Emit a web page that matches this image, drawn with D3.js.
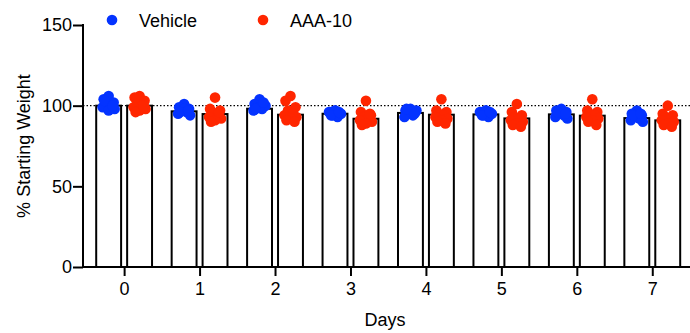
<!DOCTYPE html>
<html>
<head>
<meta charset="utf-8">
<script src="https://cdn.jsdelivr.net/npm/d3@7"></script>
<style>
  body { margin: 0; background: #fff; }
  text { font-family: Arial, "Liberation Sans", sans-serif; fill: #000; }
</style>
</head>
<body>
<svg width="690" height="333"></svg>
<script>
// chart data
const days = [0, 1, 2, 3, 4, 5, 6, 7];
const yTicks = [0, 50, 100, 150];
const vehicleMean = [100, 96.5, 98.1, 95, 95.5, 94.6, 94.6, 92.3];
const aaaMean = [100, 94.8, 94.4, 91.9, 94.4, 92.1, 93.8, 90.9];

const vehiclePts = [
  [106, 104, 102, 101, 100, 99, 98, 97, 103, 100],
  [101, 99, 98, 97, 96, 95, 94, 98, 96, 97],
  [104, 101, 100, 99, 98, 97, 100, 99, 98, 102],
  [97, 96, 95, 94, 93, 96, 95, 97, 94, 96],
  [98, 97, 96, 95, 94, 93, 97, 96, 98, 95],
  [97, 96, 95, 94, 93, 96, 95, 97, 94, 96],
  [98, 97, 96, 95, 94, 93, 92, 97, 96, 95],
  [97, 95, 94, 93, 92, 91, 90, 93, 94, 95]
];
const aaaPts = [
  [106, 105, 103, 101, 100, 99, 98, 97, 96, 100],
  [105, 98, 97, 95, 94, 93, 92, 91, 90, 96],
  [106, 103, 99, 97, 95, 94, 93, 92, 91, 90],
  [103, 96, 94, 93, 92, 91, 90, 89, 88, 95],
  [104, 97, 96, 95, 94, 93, 92, 91, 90, 89],
  [101, 96, 94, 93, 92, 91, 90, 89, 88, 87],
  [104, 97, 96, 95, 94, 93, 92, 91, 90, 88],
  [100, 95, 94, 93, 92, 91, 90, 89, 88, 87]
];

const blue = '#0433ff';
const red = '#ff2600';

const svg = d3.select('svg');

const x = d3.scaleLinear().domain([-0.545, 7.5]).range([83, 690]);
const y = d3.scaleLinear().domain([0, 150]).range([267, 25]);

const off = x(0.205) - x(0);   // group offset from the tick
const bw = x(0.33) - x(0);     // bar width
const jitter = [0, -5, 5, -2.5, 2.5, -6, 6, 0, -4, 4]; // horizontal scatter of dots

// reference line at 100
svg.append('line')
  .attr('x1', x(-0.545)).attr('x2', 690)
  .attr('y1', y(100)).attr('y2', y(100))
  .attr('stroke', '#000').attr('stroke-width', 1.2)
  .attr('stroke-dasharray', '1.5,2');

const groups = [
  { mean: vehicleMean, pts: vehiclePts, color: blue, dir: -1 },
  { mean: aaaMean, pts: aaaPts, color: red, dir: 1 }
];

groups.forEach(gr => {
  svg.append('g').selectAll('rect')
    .data(days)
    .enter().append('rect')
    .attr('x', d => x(d) + gr.dir * off - bw / 2)
    .attr('y', (d, i) => y(gr.mean[i]))
    .attr('width', bw)
    .attr('height', (d, i) => y(0) - y(gr.mean[i]))
    .attr('fill', '#fff')
    .attr('stroke', '#000')
    .attr('stroke-width', 2);
});

groups.forEach(gr => {
  days.forEach((d, i) => {
    const cx = x(d) + gr.dir * off;
    svg.append('g').selectAll('circle')
      .data(gr.pts[i])
      .enter().append('circle')
      .attr('cx', (v, j) => cx + jitter[j % jitter.length])
      .attr('cy', v => y(v))
      .attr('r', 5.3)
      .attr('fill', gr.color);
  });
});

// axes
const yAxis = svg.append('g')
  .attr('transform', `translate(${x(-0.545)},0)`)
  .call(d3.axisLeft(y).tickValues(yTicks).tickSize(10).tickPadding(1));
const xAxis = svg.append('g')
  .attr('transform', `translate(0,${y(0)})`)
  .call(d3.axisBottom(x).tickValues(days).tickSize(9).tickPadding(6).tickFormat(d3.format('d')));

[yAxis, xAxis].forEach(a => {
  a.selectAll('.tick line').attr('stroke-width', 2);
  a.selectAll('text').attr('font-size', 18).attr('fill', '#000');
  a.select('.domain').remove();
});
svg.append('line')
  .attr('x1', x(-0.545)).attr('x2', x(-0.545))
  .attr('y1', y(150) - 1).attr('y2', y(0) + 1)
  .attr('stroke', '#000').attr('stroke-width', 2);
svg.append('line')
  .attr('x1', x(-0.545)).attr('x2', 690)
  .attr('y1', y(0)).attr('y2', y(0))
  .attr('stroke', '#000').attr('stroke-width', 2);

// axis titles
svg.append('text')
  .attr('x', 385).attr('y', 326)
  .attr('text-anchor', 'middle')
  .attr('font-size', 18)
  .text('Days');
svg.append('text')
  .attr('transform', `translate(30,${(y(0) + y(150)) / 2}) rotate(-90)`)
  .attr('text-anchor', 'middle')
  .attr('font-size', 18)
  .text('% Starting Weight');

// legend
const legend = [['Vehicle', blue, 112], ['AAA-10', red, 263]];
legend.forEach(([name, c, lx]) => {
  svg.append('circle').attr('cx', lx).attr('cy', 20).attr('r', 5.3).attr('fill', c);
  svg.append('text').attr('x', lx + 27).attr('y', 27).attr('font-size', 18).text(name);
});
</script>
</body>
</html>
